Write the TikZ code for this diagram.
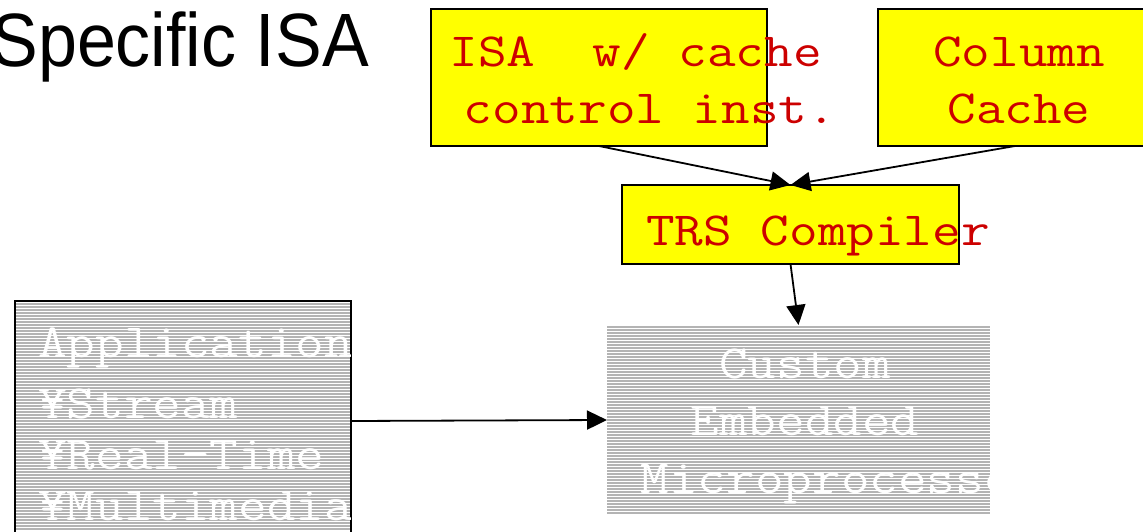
\documentclass[tikz,border=0pt]{standalone}
\usepackage{fontspec}
\newfontfamily\headfont{Liberation Sans}
\newfontfamily\codefont[FakeStretch=1.17]{Latin Modern Mono}
\usetikzlibrary{arrows.meta}
\definecolor{slideyellow}{RGB}{255,255,0}
\definecolor{slidered}{RGB}{204,0,0}
\definecolor{stripegray}{RGB}{180,180,180}

\begin{document}
\begin{tikzpicture}[x=1pt,y=-1pt,
    box/.style={draw=black,line width=1.6pt,fill=slideyellow,inner sep=0pt,outer sep=0pt,anchor=north west},
    redtxt/.style={text=slidered,font=\codefont\fontsize{47.5}{57}\selectfont,align=center,inner sep=0pt,anchor=base},
    whitetxt/.style={text=white,font=\codefont\fontsize{47.5}{51}\selectfont,inner sep=0pt},
    link/.style={line width=1.8pt,-{Triangle[length=20pt,width=19pt]}}]
    \useasboundingbox (0,0) rectangle (1143,532);
    % heading, runs off the left edge
    \node[font=\headfont\fontsize{70}{70}\selectfont,yscale=1.08,inner sep=0pt,anchor=base east] (head) at (369,67) {Specific ISA};
    % yellow boxes
    \node[box,minimum width=336,minimum height=137] (isabox) at (431,9) {};
    \node[box,minimum width=274,minimum height=137] (colbox) at (878,9) {};
    \node[box,minimum width=337,minimum height=79] (trsbox) at (622,185) {};
    \node[redtxt] (isatxt) at (650,124) {ISA\ \ w/ cache\hphantom{.}\\control inst.};
    \node[redtxt] (coltxt) at (1019,124) {Column\\Cache};
    \node[redtxt] (trstxt) at (818,245) {TRS Compiler};
    % striped blocks
    \foreach \y in {304,307,...,531}{\draw[stripegray,line width=1.2pt] (16,\y)--(350,\y);}
    \foreach \y in {327,330,...,514}{\draw[stripegray,line width=1.2pt] (607,\y)--(990,\y);}
    \node[draw=black,line width=2pt,inner sep=0pt,outer sep=0pt,minimum width=336,minimum height=240,anchor=north west] (appbox) at (15,301) {};
    \node[inner sep=0pt,outer sep=0pt,minimum width=383,minimum height=190,anchor=north west] (cpubox) at (607,325) {};
    \begin{scope}
      \clip (16,302) rectangle (350,532);
      \node[whitetxt,align=left,anchor=base west] (apptxt) at (38,520) {Application\\[10pt]¥Stream\\¥Real-Time\\¥Multimedia};
    \end{scope}
    \begin{scope}
      \clip (607,325) rectangle (990,515);
      \node[whitetxt,align=center,anchor=base,font=\codefont\fontsize{47.5}{57.5}\selectfont] (cputxt) at (805,493) {Custom\\Embedded\\\hspace*{72pt}Microprocessor};
    \end{scope}
    % connectors
    \draw[link] (isabox.south)--(trsbox.north);
    \draw[link] (colbox.south)--(trsbox.north);
    \draw[link] (trsbox.south)--(cpubox.north);
    \draw[link] (appbox.east)--(cpubox.west);
\end{tikzpicture}
\end{document}
